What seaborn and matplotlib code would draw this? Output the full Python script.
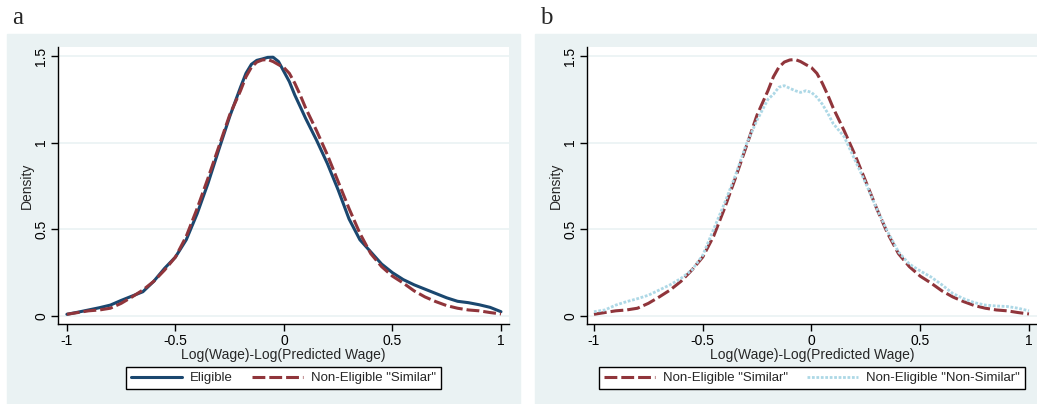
import seaborn as sns
import matplotlib.pyplot as plt
import matplotlib.patches as mpatches
import pandas as pd
import numpy as np

# x grid of the density curves
x_vals = [-1.0, -0.95, -0.9, -0.85, -0.8, -0.75, -0.7, -0.65, -0.6, -0.55,
          -0.5, -0.45, -0.4, -0.35, -0.3, -0.25, -0.2, -0.175, -0.15, -0.125,
          -0.1, -0.075, -0.05, -0.025, 0.0, 0.025, 0.05, 0.075, 0.1, 0.15,
          0.2, 0.25, 0.3, 0.35, 0.4, 0.45, 0.5, 0.55, 0.6, 0.65,
          0.7, 0.75, 0.8, 0.85, 0.9, 0.95, 1.0]

eligible = [0.01, 0.022, 0.035, 0.048, 0.063, 0.09, 0.115, 0.14, 0.2, 0.275,
            0.34, 0.44, 0.59, 0.765, 0.96, 1.15, 1.32, 1.40, 1.452, 1.475,
            1.483, 1.492, 1.493, 1.468, 1.41, 1.352, 1.275, 1.208, 1.14, 1.015,
            0.88, 0.727, 0.56, 0.44, 0.37, 0.30, 0.25, 0.21, 0.18, 0.155,
            0.13, 0.105, 0.085, 0.077, 0.065, 0.05, 0.025]

similar = [0.01, 0.02, 0.03, 0.035, 0.045, 0.073, 0.11, 0.15, 0.20, 0.265,
           0.34, 0.46, 0.62, 0.795, 0.977, 1.16, 1.30, 1.38, 1.435, 1.465,
           1.477, 1.48, 1.468, 1.45, 1.433, 1.40, 1.343, 1.275, 1.20, 1.07,
           0.93, 0.775, 0.62, 0.477, 0.36, 0.285, 0.23, 0.19, 0.145, 0.11,
           0.083, 0.06, 0.045, 0.035, 0.03, 0.02, 0.012]

non_similar = [0.025, 0.035, 0.063, 0.083, 0.1, 0.12, 0.15, 0.18, 0.217, 0.265,
               0.35, 0.5, 0.65, 0.81, 0.99, 1.13, 1.25, 1.279, 1.32, 1.329,
               1.314, 1.30, 1.29, 1.30, 1.29, 1.262, 1.222, 1.17, 1.11, 1.035,
               0.9, 0.765, 0.62, 0.487, 0.37, 0.30, 0.26, 0.225, 0.18, 0.13,
               0.10, 0.077, 0.063, 0.058, 0.055, 0.045, 0.03]

x_ticks = [-1, -0.5, 0, 0.5, 1]
x_tick_labels = ['-1', '-0.5', '0', '0.5', '1']
y_ticks = [0, 0.5, 1, 1.5]
y_tick_labels = ['0', '0.5', '1', '1.5']

df = pd.DataFrame({'x': x_vals, 'eligible': eligible,
                   'similar': similar, 'non_similar': non_similar})

sns.set_theme(style="white")
plt.rcParams['font.family'] = ['Liberation Sans', 'DejaVu Sans']

NAVY = '#1a476f'
MAROON = '#90353b'
LTBLUE = '#add8e6'
BG = '#eaf2f3'

fig = plt.figure(figsize=(10.37, 4.04), dpi=100)

# graph region backgrounds (behind the axes)
fig.patches.append(mpatches.Rectangle((7 / 1037, 0), 513 / 1037, 370 / 404,
                                      transform=fig.transFigure, color=BG, zorder=-5))
fig.patches.append(mpatches.Rectangle((535 / 1037, 0), 502 / 1037, 370 / 404,
                                      transform=fig.transFigure, color=BG, zorder=-5))

ax_a = fig.add_axes([58 / 1037, 1 - 324 / 404, 451 / 1037, 277 / 404])
ax_b = fig.add_axes([587 / 1037, 1 - 324 / 404, 450 / 1037, 277 / 404])

dash_style = (0, (4.2, 1.3))
dot_style = (0, (1.0, 0.6))

sns.lineplot(data=df, x='x', y='eligible', ax=ax_a, color=NAVY, lw=2.2,
             label='Eligible')
sns.lineplot(data=df, x='x', y='similar', ax=ax_a, color=MAROON, lw=2.2,
             linestyle=dash_style, label='Non-Eligible "Similar"')

sns.lineplot(data=df, x='x', y='similar', ax=ax_b, color=MAROON, lw=2.2,
             linestyle=dash_style, label='Non-Eligible "Similar"')
sns.lineplot(data=df, x='x', y='non_similar', ax=ax_b, color=LTBLUE, lw=2.0,
             linestyle=dot_style, label='Non-Eligible "Non-Similar"')

for ax, xlim, cx in [(ax_a, (-1.041, 1.037), 283.5 / 1037),
                     (ax_b, (-1.032, 1.037), 812 / 1037)]:
    ax.set_facecolor('white')
    ax.set_xlim(*xlim)
    ax.set_ylim(-0.046, 1.552)
    ax.set_xticks(x_ticks)
    ax.set_xticklabels(x_tick_labels)
    ax.set_yticks(y_ticks)
    ax.set_yticklabels(y_tick_labels, rotation=90, va='center')
    for t in y_ticks:
        ax.axhline(t, color=BG, lw=1.2, zorder=0)
    for side in ['top', 'right']:
        ax.spines[side].set_visible(False)
    for side in ['left', 'bottom']:
        ax.spines[side].set_color('black')
        ax.spines[side].set_linewidth(1.0)
    ax.tick_params(axis='both', which='both', direction='out', length=5,
                   width=1.0, colors='black', labelsize=10, pad=2,
                   bottom=True, left=True)
    ax.set_xlabel('Log(Wage)-Log(Predicted Wage)', fontsize=10, labelpad=0)
    ax.set_ylabel('Density', fontsize=10, labelpad=0)
    handles, labels = ax.get_legend_handles_labels()
    ax.get_legend().remove()
    leg = fig.legend(handles, labels, loc='center',
                     bbox_to_anchor=(cx, 1 - 378 / 404), ncol=2,
                     fontsize=9.5, frameon=True, fancybox=False,
                     edgecolor='black', facecolor='white', framealpha=1,
                     handlelength=3.9, columnspacing=1.4, borderpad=0.35,
                     handletextpad=0.6, borderaxespad=0)
    leg.get_frame().set_linewidth(1.0)

fig.text(12 / 1037, 1 - 18 / 404, 'a', fontsize=18, va='center', ha='left',
         family=['Liberation Serif', 'DejaVu Serif'])
fig.text(540 / 1037, 1 - 18 / 404, 'b', fontsize=18, va='center', ha='left',
         family=['Liberation Serif', 'DejaVu Serif'])

fig.savefig('out.png', dpi=100, facecolor='white')
